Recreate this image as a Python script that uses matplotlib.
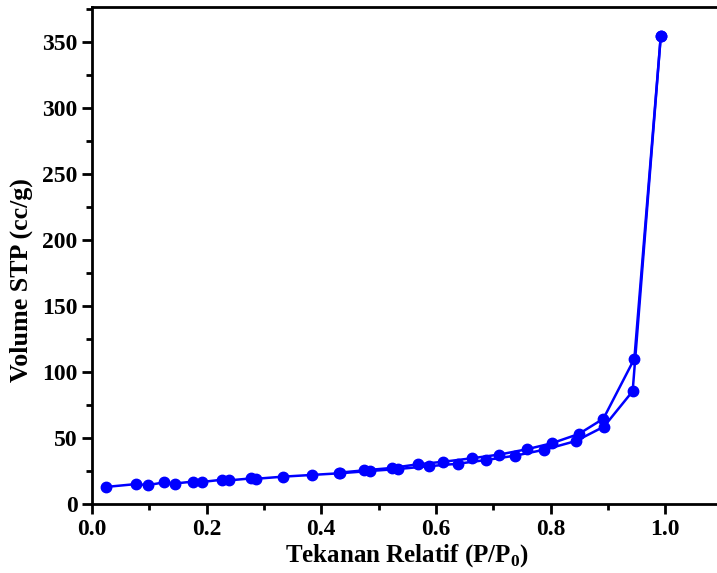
import matplotlib
matplotlib.use("Agg")
import matplotlib.pyplot as plt
from matplotlib.ticker import MultipleLocator

# adsorption branch (lower)
p_ads = [0.024, 0.077, 0.097, 0.125, 0.144, 0.177, 0.192, 0.227, 0.239, 0.278, 0.286,
         0.333, 0.383, 0.433, 0.485, 0.534, 0.587, 0.638, 0.687, 0.738, 0.789, 0.844,
         0.893, 0.943, 0.992]
v_ads = [12.9, 15.1, 14.3, 16.3, 15.5, 17.0, 16.7, 18.4, 17.9, 19.4, 19.1,
         20.7, 22.0, 23.3, 25.0, 26.5, 28.6, 30.5, 33.3, 36.6, 41.1, 47.7,
         58.6, 85.4, 354.0]

# desorption branch (upper)
p_des = [0.992, 0.946, 0.892, 0.849, 0.802, 0.758, 0.710, 0.662, 0.613, 0.569, 0.523,
         0.475, 0.430]
v_des = [354.0, 110.0, 64.6, 53.0, 46.0, 41.4, 37.4, 34.6, 32.0, 30.1, 27.3,
         25.5, 23.7]

plt.rcParams["font.family"] = ["Liberation Serif", "DejaVu Serif"]
plt.rcParams["font.weight"] = "bold"
plt.rcParams["mathtext.fontset"] = "custom"
plt.rcParams["mathtext.rm"] = "Liberation Serif:bold"

fig = plt.figure(figsize=(7.17, 5.73), dpi=100)
ax = fig.add_axes([0.1283, 0.1204, 0.8796, 0.8668])

style = dict(color="#0000ff", lw=1.8, marker="o", ms=7.5, mec="#0000ff", mfc="#0000ff")
ax.plot(p_ads, v_ads, **style)
ax.plot(p_des, v_des, **style)

ax.set_xlim(0, 1.1)
ax.set_ylim(0, 376)
ax.xaxis.set_major_locator(MultipleLocator(0.2))
ax.xaxis.set_minor_locator(MultipleLocator(0.1))
ax.yaxis.set_major_locator(MultipleLocator(50))
ax.yaxis.set_minor_locator(MultipleLocator(25))
ax.xaxis.set_major_formatter(matplotlib.ticker.FormatStrFormatter("%.1f"))

for s in ax.spines.values():
    s.set_linewidth(2)
ax.tick_params(which="major", direction="out", length=7, width=2, labelsize=17)
ax.tick_params(which="minor", direction="out", length=4, width=2)

ax.set_xlabel(r"Tekanan Relatif (P/P$_\mathregular{0}$)", fontsize=18, fontweight="bold", labelpad=2)
ax.set_ylabel("Volume STP (cc/g)", fontsize=18.7, fontweight="bold")
ax.yaxis.set_label_coords(-0.094, 0.45)

fig.savefig("out.png", dpi=100)
